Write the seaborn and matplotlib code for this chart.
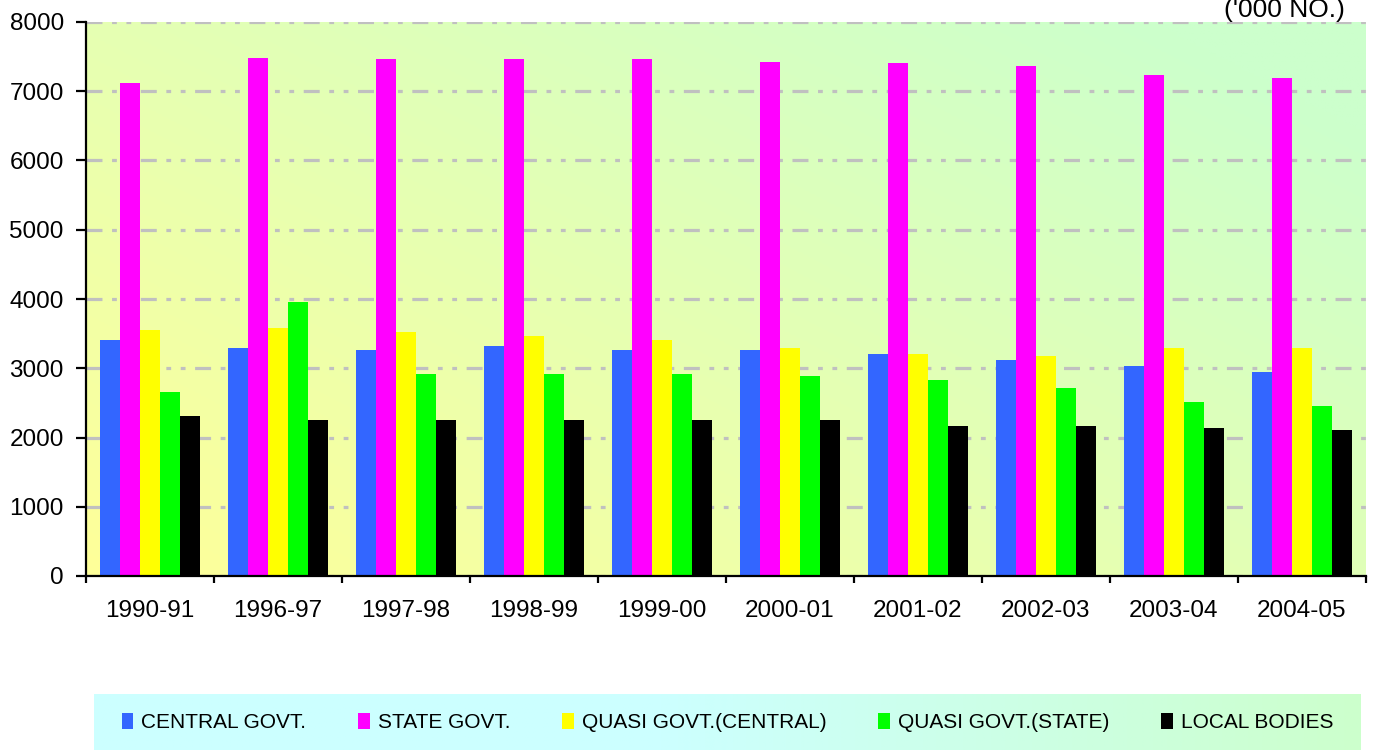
import numpy as np
import pandas as pd
import seaborn as sns
import matplotlib.pyplot as plt
from matplotlib.patches import Patch

# datos ('000 NO.)
years = ['1990-91', '1996-97', '1997-98', '1998-99', '1999-00',
         '2000-01', '2001-02', '2002-03', '2003-04', '2004-05']
central = [3410, 3295, 3266, 3324, 3266, 3266, 3208, 3121, 3035, 2948]
state = [7124, 7486, 7471, 7471, 7471, 7428, 7413, 7370, 7240, 7197]
quasi_central = [3550, 3580, 3526, 3468, 3410, 3295, 3208, 3179, 3295, 3295]
quasi_state = [2657, 3957, 2919, 2919, 2919, 2890, 2832, 2717, 2514, 2457]
local_bodies = [2312, 2254, 2254, 2254, 2254, 2254, 2168, 2168, 2139, 2110]

series = ['CENTRAL GOVT.', 'STATE GOVT.', 'QUASI GOVT.(CENTRAL)',
          'QUASI GOVT.(STATE)', 'LOCAL BODIES']
colors = ['#3366ff', '#ff00ff', '#ffff00', '#00ff00', '#000000']

df = pd.DataFrame({'year': years * 5,
                   'value': central + state + quasi_central + quasi_state + local_bodies,
                   'series': np.repeat(series, len(years))})

plt.rcParams['font.family'] = ['Liberation Sans', 'DejaVu Sans']

fig = plt.figure(figsize=(13.76, 7.52), dpi=100)
ax = fig.add_axes([86 / 1376, 1 - 576 / 752, 1280 / 1376, 554 / 752])

# fondo degradado del area del grafico
xx, yy = np.meshgrid(np.linspace(0, 1, 200), np.linspace(0, 1, 200))
t = np.clip(0.6 * xx + 0.5 * yy, 0, 1)
c0 = np.array([1.0, 1.0, 0.6])
c1 = np.array([0.8, 1.0, 0.8])
grad = c0[None, None, :] * (1 - t[..., None]) + c1[None, None, :] * t[..., None]
ax.imshow(grad, extent=[-0.5, 9.5, 0, 8000], origin='lower', aspect='auto', zorder=0)

sns.barplot(data=df, x='year', y='value', hue='series', hue_order=series,
            palette=colors, saturation=1, width=0.78, gap=0, legend=False,
            linewidth=0, ax=ax, zorder=3)

ax.set_xlim(-0.5, 9.5)
ax.set_ylim(0, 8000)
ax.set_yticks(range(0, 8001, 1000))
ax.grid(axis='y', color='#c0c0c0', linewidth=2.3,
        linestyle=(0, (5, 3, 1.5, 3, 1.5, 3)), zorder=1)
ax.grid(axis='x', visible=False)
ax.set_axisbelow(False)
for gl in ax.get_ygridlines():
    gl.set_zorder(1)

ax.set_xlabel('')
ax.set_ylabel('')
for s in ['top', 'right']:
    ax.spines[s].set_visible(False)
for s in ['left', 'bottom']:
    ax.spines[s].set_linewidth(1.6)
    ax.spines[s].set_color('black')
    ax.spines[s].set_zorder(5)

ax.set_xticks(np.arange(-0.5, 10, 1), minor=True)
ax.tick_params(axis='x', which='major', length=0, pad=17, labelsize=17.5)
ax.tick_params(axis='x', which='minor', length=5, width=1.6, direction='out')
ax.tick_params(axis='y', length=7, width=1.6, labelsize=17.5, pad=9)

fig.text(1345 / 1376, 1 - 17 / 752, "('000 NO.)", ha='right', va='baseline', fontsize=19)

# panel de la leyenda
lax = fig.add_axes([94 / 1376, 0.002, 1267 / 1376, 56 / 752])
lx = np.linspace(0, 1, 200)
lt = np.clip((lx - 0.45) / 0.55, 0, 1)
cl0 = np.array([0.8, 1.0, 1.0])
cl1 = np.array([0.8, 1.0, 0.8])
lgrad = cl0[None, None, :] * (1 - lt[None, :, None]) + cl1[None, None, :] * lt[None, :, None]
lgrad = np.repeat(lgrad, 20, axis=0)
lax.imshow(lgrad, extent=[0, 1, 0, 1], aspect='auto')
lax.set_axis_off()

handles = [Patch(facecolor=c, edgecolor='none') for c in colors]
lax.legend(handles, series, loc='center', ncol=5, frameon=False,
           fontsize=15, handlelength=0.55, handleheight=0.8,
           handletextpad=0.38, columnspacing=2.5)

fig.savefig('out.png', dpi=100)
